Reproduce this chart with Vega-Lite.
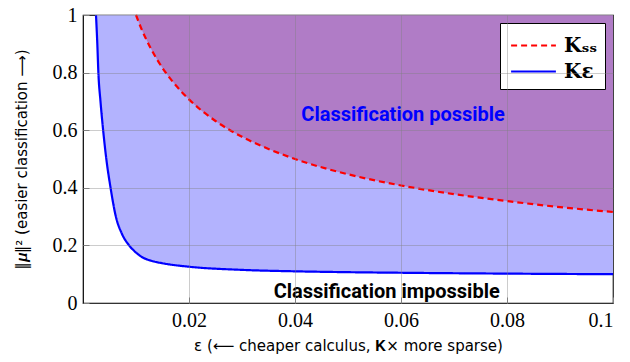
{
  "$schema": "https://vega.github.io/schema/vega-lite/v6.json",
  "width": 530,
  "height": 288,
  "autosize": "none",
  "padding": {"left": 83, "top": 15, "right": 17, "bottom": 59},
  "background": "white",
  "view": {"stroke": "black", "strokeWidth": 1.2},
  "datasets": {
    "curves": [
      {"x": 0.00245, "y": 1.0, "k": "eps"},
      {"x": 0.0027, "y": 0.9, "k": "eps"},
      {"x": 0.0029, "y": 0.8, "k": "eps"},
      {"x": 0.0033, "y": 0.7, "k": "eps"},
      {"x": 0.0038, "y": 0.6, "k": "eps"},
      {"x": 0.0044, "y": 0.5, "k": "eps"},
      {"x": 0.0052, "y": 0.4, "k": "eps"},
      {"x": 0.0062, "y": 0.3, "k": "eps"},
      {"x": 0.0073, "y": 0.242, "k": "eps"},
      {"x": 0.0087, "y": 0.2, "k": "eps"},
      {"x": 0.01, "y": 0.175, "k": "eps"},
      {"x": 0.011, "y": 0.161, "k": "eps"},
      {"x": 0.013, "y": 0.146, "k": "eps"},
      {"x": 0.015, "y": 0.138, "k": "eps"},
      {"x": 0.02, "y": 0.126, "k": "eps"},
      {"x": 0.03, "y": 0.115, "k": "eps"},
      {"x": 0.04, "y": 0.11, "k": "eps"},
      {"x": 0.05, "y": 0.107, "k": "eps"},
      {"x": 0.06, "y": 0.105, "k": "eps"},
      {"x": 0.08, "y": 0.102, "k": "eps"},
      {"x": 0.1, "y": 0.1, "k": "eps"},
      {"x": 0.01, "y": 1.0, "k": "ss"},
      {"x": 0.011, "y": 0.953, "k": "ss"},
      {"x": 0.012, "y": 0.913, "k": "ss"},
      {"x": 0.013, "y": 0.877, "k": "ss"},
      {"x": 0.014, "y": 0.845, "k": "ss"},
      {"x": 0.015, "y": 0.816, "k": "ss"},
      {"x": 0.0175, "y": 0.756, "k": "ss"},
      {"x": 0.02, "y": 0.707, "k": "ss"},
      {"x": 0.025, "y": 0.632, "k": "ss"},
      {"x": 0.03, "y": 0.577, "k": "ss"},
      {"x": 0.035, "y": 0.535, "k": "ss"},
      {"x": 0.04, "y": 0.5, "k": "ss"},
      {"x": 0.05, "y": 0.447, "k": "ss"},
      {"x": 0.06, "y": 0.408, "k": "ss"},
      {"x": 0.07, "y": 0.378, "k": "ss"},
      {"x": 0.08, "y": 0.354, "k": "ss"},
      {"x": 0.09, "y": 0.333, "k": "ss"},
      {"x": 0.1, "y": 0.316, "k": "ss"}
    ],
    "labels": [
      {"x": 0.0604, "y": 0.653, "t": "Classification possible", "c": "possible"},
      {"x": 0.0573, "y": 0.039, "t": "Classification impossible", "c": "impossible"}
    ]
  },
  "encoding": {
    "x": {"field": "x", "type": "quantitative", "scale": {"domain": [0, 0.1], "nice": false},
      "axis": {"values": [0.02, 0.04, 0.06, 0.08, 0.1], "title": "ε (⟵ cheaper calculus, 𝐊× more sparse)", "format": ".2~f",
        "grid": true, "gridColor": "#808080", "gridOpacity": 0.4, "gridWidth": 1, "domain": false,
        "ticks": true, "tickColor": "#808080", "tickSize": -6,
        "labelFont": "Liberation Serif", "labelFontSize": 20, "labelColor": "black", "labelPadding": 13,
        "titleFont": "DejaVu Sans", "titleFontSize": 15, "titleFontWeight": "normal", "titleColor": "black", "titlePadding": 8, "zindex": 1}},
    "y": {"field": "y", "type": "quantitative", "scale": {"domain": [0, 1], "nice": false},
      "axis": {"values": [0, 0.2, 0.4, 0.6, 0.8, 1], "title": "‖𝝁‖² (easier classification ⟶)", "format": "~g",
        "grid": true, "gridColor": "#808080", "gridOpacity": 0.4, "gridWidth": 1, "domain": false,
        "ticks": true, "tickColor": "#808080", "tickSize": -6,
        "labelFont": "Liberation Serif", "labelFontSize": 20, "labelColor": "black", "labelPadding": 12,
        "titleFont": "DejaVu Sans", "titleFontSize": 15, "titleFontWeight": "normal", "titleColor": "black", "titlePadding": 23, "zindex": 1}}
  },
  "layer": [
    {
      "data": {"name": "curves"},
      "transform": [{"filter": "datum.k === 'eps'"}],
      "mark": {"type": "area", "color": "#b3b3fe", "interpolate": "monotone", "orient": "vertical"},
      "encoding": {"y2": {"datum": 1}}
    },
    {
      "data": {"name": "curves"},
      "transform": [{"filter": "datum.k === 'ss'"}],
      "mark": {"type": "area", "color": "#b07cc6", "interpolate": "monotone", "orient": "vertical"},
      "encoding": {"y2": {"datum": 1}}
    },
    {
      "data": {"name": "curves"},
      "mark": {"type": "line", "interpolate": "monotone"},
      "encoding": {
        "color": {"field": "k", "type": "nominal",
          "scale": {"domain": ["ss", "eps"], "range": ["#ff0000", "#0000ff"]},
          "legend": {"title": null, "orient": "top-right", "offset": 8, "fillColor": "white", "strokeColor": "black",
            "padding": 7, "rowPadding": 0, "symbolType": "M-1.6,0H1.6", "symbolSize": 784, "symbolStrokeWidth": 2.2, "symbolOffset": 11,
            "labelFont": "DejaVu Serif", "labelFontSize": 20, "labelFontWeight": "bold", "labelColor": "black", "labelOffset": 15,
            "labelExpr": "datum.value === 'ss' ? '𝐊ₛₛ' : '𝐊ε'"}},
        "strokeDash": {"field": "k", "type": "nominal",
          "scale": {"domain": ["ss", "eps"], "range": [[6, 4], [1, 0]]}, "legend": null},
        "strokeWidth": {"value": 2.2}
      }
    },
    {
      "data": {"name": "labels"},
      "mark": {"type": "text", "font": "Roboto", "fontWeight": "bold", "fontSize": 20, "align": "center", "baseline": "middle"},
      "encoding": {
        "text": {"field": "t"},
        "fill": {"field": "c", "type": "nominal", "scale": {"domain": ["possible", "impossible"], "range": ["#0000ff", "#000000"]}, "legend": null}
      }
    }
  ]
}
